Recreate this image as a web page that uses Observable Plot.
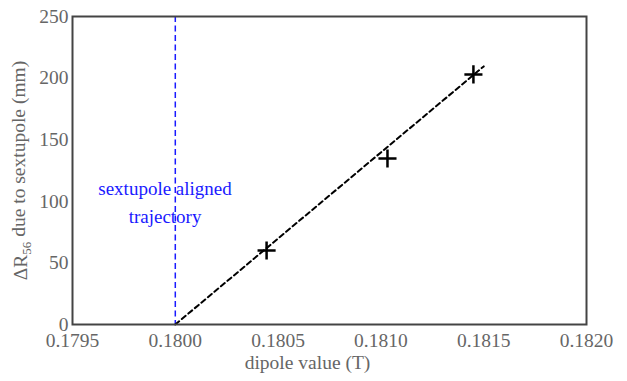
<!DOCTYPE html>
<html><head><meta charset="utf-8">
<script src="https://cdn.jsdelivr.net/npm/d3@7"></script>
<script src="https://cdn.jsdelivr.net/npm/@observablehq/plot@0.6"></script>
<style>body{margin:0;background:#fff;} svg{display:block;}</style>
</head><body><div id="chart"></div>
<script>
const dipole = [0.180444, 0.181032, 0.18145];
const deltaR = [60, 134.7, 203];
const fitX = [0.1800, 0.1815];
const fitY = [0, 209.5];
const alignedX = [0.1800];
const xTicks = [0.1795, 0.1800, 0.1805, 0.1810, 0.1815, 0.1820];
const yTicks = [0, 50, 100, 150, 200, 250];
const xLabel = "dipole value (T)";
const yLabel = "ΔR56 due to sextupole (mm)";
const note = "sextupole aligned\ntrajectory";

const points = dipole.map((d, i) => ({x: d, y: deltaR[i]}));
const fit = fitX.map((d, i) => ({x: d, y: fitY[i]}));
const cross = {draw(ctx, size) { const r = Math.sqrt(size); ctx.moveTo(-r, 0); ctx.lineTo(r, 0); ctx.moveTo(0, -r); ctx.lineTo(0, r); }};

const chart = Plot.plot({
  width: 627, height: 381,
  marginLeft: 72, marginRight: 41, marginTop: 16, marginBottom: 57,
  style: {fontFamily: "Liberation Serif", fontSize: "19.5px", color: "#666", background: "#fff"},
  x: {domain: [0.1795, 0.1820], ticks: xTicks, tickFormat: d3.format(".4f"), tickSize: 0, tickPadding: 9, label: null},
  y: {domain: [0, 250], ticks: yTicks, tickSize: 0, tickPadding: 4, label: null},
  marks: [
    Plot.ruleX(alignedX, {stroke: "#1a1aff", strokeWidth: 1.5, strokeDasharray: "6,3.5"}),
    Plot.line(fit, {x: "x", y: "y", stroke: "black", strokeWidth: 2, strokeDasharray: "5,3.5"}),
    Plot.dot(points, {x: "x", y: "y", symbol: cross, r: 5.1, stroke: "black", strokeWidth: 2.5, fill: "none"}),
    Plot.text([note], {x: 0.17995, y: 101, text: d => d, fill: "#1a1aff", fontSize: 19, lineHeight: 1.45}),
    Plot.text([xLabel], {frameAnchor: "bottom", lineAnchor: "middle", dx: -22, dy: 38, text: d => d, fill: "#666", fontSize: 19.5}),
    Plot.text([yLabel], {frameAnchor: "left", textAnchor: "middle", dx: -52, rotate: -90, text: d => d, fill: "#666", fontSize: 19.5}),
    Plot.frame({stroke: "#444", strokeWidth: 2})
  ]
});
document.getElementById("chart").appendChild(chart);
d3.select(chart).selectAll("text").filter(function() { return this.textContent === yLabel; }).each(function() {
  const t = d3.select(this);
  t.text(null);
  t.append("tspan").text("ΔR");
  t.append("tspan").attr("font-size", "13px").attr("dy", "0.3em").text("56");
  t.append("tspan").attr("dy", "-0.3em").text(" due to sextupole (mm)");
});
</script></body></html>
